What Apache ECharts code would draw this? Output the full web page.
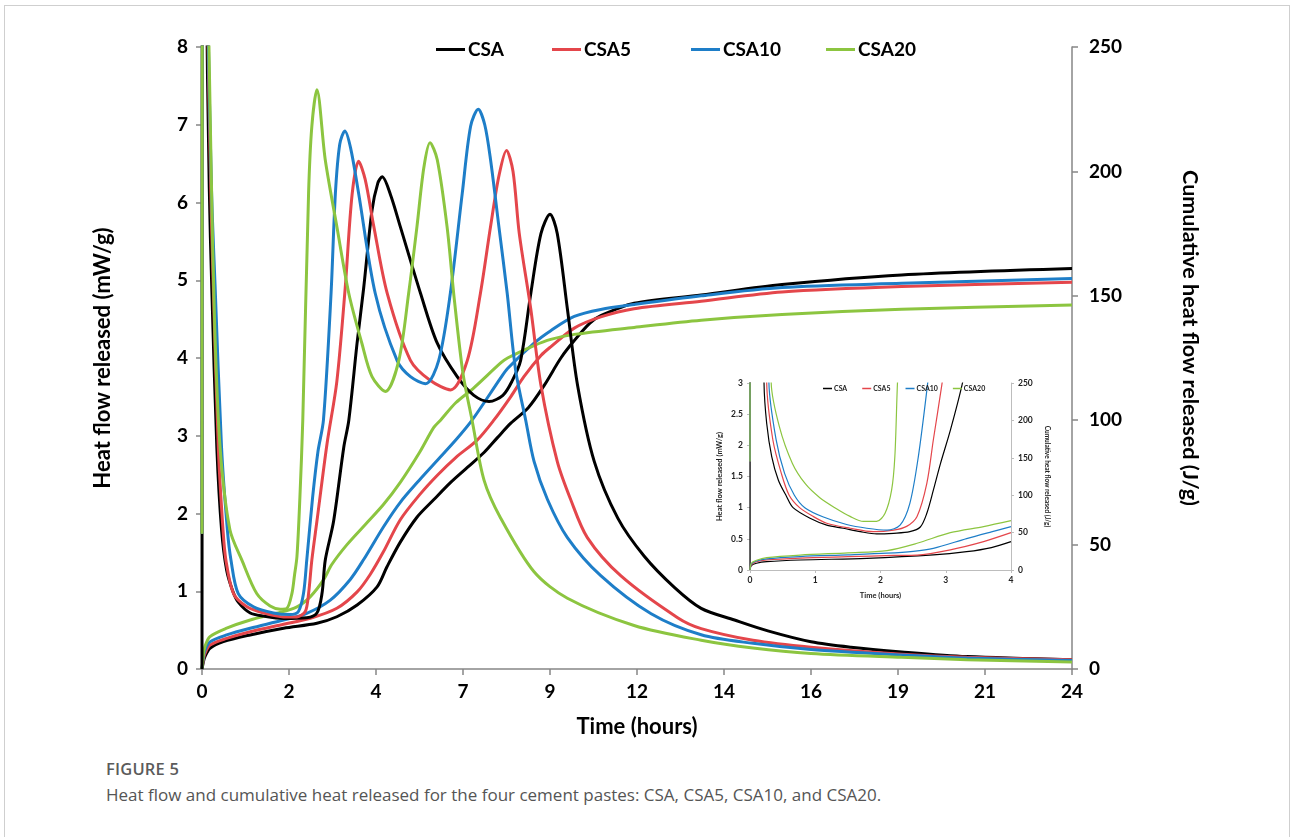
<!DOCTYPE html>
<html>
<head>
<meta charset="utf-8">
<title>Heat flow</title>
<script src="https://cdn.jsdelivr.net/npm/echarts@6.0.0/dist/echarts.min.js"></script>
<style>
  html, body { margin: 0; padding: 0; background: #fff; overflow: hidden; }
  #frame { position: absolute; left: 4px; top: 5px; width: 1284px; height: 900px; border: 1px solid #cfcfcf; border-bottom: none; }
  #chart { position: absolute; left: 0; top: 0; width: 1290px; height: 745px; }
  .fig { position: absolute; left: 106px; top: 757px; font: 600 16.5px "Open Sans"; color: #5b5b5b; letter-spacing: 0.2px; }
  .cap { position: absolute; left: 106px; top: 783px; font: 400 17px "Open Sans"; color: #555; }
</style>
</head>
<body>
<div id="frame"></div>
<div id="chart"></div>
<div class="fig">FIGURE 5</div>
<div class="cap">Heat flow and cumulative heat released for the four cement pastes: CSA, CSA5, CSA10, and CSA20.</div>
<script>
// sample names and colours
const names = ['CSA', 'CSA5', 'CSA10', 'CSA20'];
const colors = ['#000000', '#e4464b', '#1e7ec8', '#8cc540'];

// main chart: heat flow [hours, mW/g]
const csaHeat = [[0,0],[0.04,20],[0.12,9],[0.2,6.2],[0.27,4.9],[0.41,2.84],[0.54,1.79],[0.68,1.27],[0.85,1.0],[1.0,0.86],[1.33,0.72],[1.7,0.68],[2.25,0.65],[2.89,0.66],[3.17,0.72],[3.31,0.97],[3.4,1.4],[3.63,1.9],[3.91,2.85],[4.05,3.2],[4.28,4.2],[4.46,4.9],[4.69,5.9],[4.85,6.25],[4.97,6.33],[5.2,6.1],[5.47,5.69],[6.03,4.83],[6.49,4.19],[7.04,3.76],[7.5,3.52],[7.92,3.44],[8.3,3.52],[8.55,3.7],[8.79,3.97],[9.07,4.83],[9.35,5.6],[9.6,5.85],[9.8,5.6],[10.08,4.63],[10.36,3.65],[10.82,2.67],[11.47,1.94],[12.2,1.45],[13.03,1.05],[13.77,0.78],[14.69,0.63],[15.61,0.49],[16.8,0.35],[17.9,0.28],[19.3,0.22],[21.1,0.16],[24,0.12]];
const csa5Heat = [[0,1.74],[0.04,20],[0.14,9],[0.24,6.2],[0.31,4.94],[0.45,2.84],[0.58,1.79],[0.66,1.4],[0.87,0.97],[1.24,0.8],[1.7,0.72],[2.25,0.67],[2.62,0.67],[2.85,0.74],[2.94,0.97],[3.03,1.4],[3.17,1.9],[3.45,2.9],[3.72,3.7],[3.95,4.9],[4.14,6.1],[4.32,6.53],[4.5,6.3],[4.74,5.69],[5.11,4.83],[5.75,3.97],[6.3,3.71],[6.86,3.59],[7.32,3.97],[7.68,4.83],[7.96,5.69],[8.19,6.34],[8.4,6.67],[8.58,6.4],[8.75,5.61],[9.07,4.63],[9.35,3.65],[9.8,2.67],[10.17,2.18],[10.63,1.69],[11.55,1.2],[13.12,0.66],[13.77,0.52],[15.2,0.37],[16.8,0.28],[19.3,0.19],[21.1,0.15],[24,0.12]];
const csa10Heat = [[0,1.74],[0.04,20],[0.15,9],[0.26,6.2],[0.36,4.94],[0.54,2.84],[0.7,1.79],[0.8,1.4],[1.0,0.97],[1.42,0.8],[1.97,0.72],[2.43,0.7],[2.66,0.74],[2.8,0.97],[2.89,1.4],[3.05,2.2],[3.2,2.8],[3.35,3.2],[3.56,4.83],[3.68,6.12],[3.8,6.75],[3.94,6.92],[4.1,6.7],[4.32,6.12],[4.78,4.83],[5.38,3.97],[5.75,3.76],[6.17,3.67],[6.53,3.97],[6.85,4.83],[7.18,6.12],[7.41,6.98],[7.62,7.2],[7.8,7.0],[7.96,6.55],[8.19,5.69],[8.42,4.83],[8.65,3.85],[8.93,3.2],[9.16,2.67],[9.53,2.18],[10.08,1.69],[11.0,1.2],[12.39,0.71],[13.77,0.44],[15.2,0.33],[16.8,0.25],[19.3,0.18],[21.1,0.14],[24,0.11]];
const csa20Heat = [[0,1.74],[0.04,20],[0.15,9.5],[0.25,6.5],[0.35,4.41],[0.5,2.84],[0.77,1.79],[1.1,1.4],[1.51,0.97],[1.88,0.81],[2.16,0.77],[2.34,0.78],[2.48,0.97],[2.55,1.2],[2.62,1.45],[2.7,2.2],[2.78,3.2],[2.94,6.12],[3.03,6.98],[3.17,7.45],[3.4,6.55],[3.72,5.69],[4.05,4.83],[4.41,4.19],[4.69,3.76],[5.06,3.57],[5.43,3.97],[5.7,4.83],[5.93,5.69],[6.12,6.45],[6.29,6.77],[6.49,6.55],[6.76,5.69],[6.95,4.8],[7.2,3.8],[7.45,3.2],[7.78,2.43],[8.24,1.94],[9.16,1.25],[10.08,0.91],[11.92,0.56],[13.77,0.37],[15.2,0.27],[16.8,0.2],[19.3,0.15],[21.1,0.12],[24,0.09]];

// main chart: cumulative heat [hours, J/g]
const csaCum = [[0,0],[0.04,3],[0.08,4.9],[0.22,8.3],[0.59,11],[1.33,13.7],[2.25,16.4],[3.17,18.4],[3.72,21],[4.28,25.7],[4.83,33],[5.1,41],[5.47,51],[5.93,61],[6.39,68],[6.86,75],[7.32,81],[7.78,87],[8.15,93],[8.52,98.8],[9.0,105],[9.44,114],[9.9,125],[10.27,132],[10.7,139],[11.0,142],[11.92,147],[13.77,150.3],[16,154.5],[19.3,158.4],[24,161]];
const csa5Cum = [[0,0],[0.04,4],[0.08,6.2],[0.22,9.6],[0.68,12.3],[1.33,15],[2.25,18],[2.99,20.4],[3.72,24.4],[4.28,31],[4.64,38],[5.0,47],[5.47,60],[6.0,70],[6.5,78],[7.0,85],[7.59,92],[8.05,100],[8.52,109.5],[8.88,117.5],[9.35,126],[9.62,129.5],[10.27,137],[11.0,141.5],[11.92,144.8],[13.77,147.8],[16,151.5],[19.3,153.7],[24,155.4]];
const csa10Cum = [[0,0],[0.04,5],[0.08,7.5],[0.22,10.9],[0.68,13.7],[1.33,16.4],[2.25,19.7],[2.89,22.4],[3.54,27.7],[4.09,36],[4.46,44],[5.0,57],[5.47,67],[6.0,76],[6.5,84],[7.0,92],[7.45,100],[8.24,117],[8.43,120.8],[9.16,131],[9.62,136],[10.27,141.7],[11.0,144.5],[11.92,146.5],[13.77,150],[16,153.3],[19.3,155],[24,157]];
const csa20Cum = [[0,0],[0.04,6],[0.08,9],[0.22,13],[0.68,16.4],[1.33,19.7],[2.06,22.4],[2.62,25],[2.99,29.1],[3.35,35.8],[3.58,42],[4.0,50],[4.5,58],[5.0,66],[5.47,75],[6.0,87],[6.39,97],[6.58,100],[7.0,107],[7.5,113],[8.24,123],[8.43,125],[9.16,130],[9.62,132.5],[10.27,134.5],[11.92,137.3],[13.77,140.2],[16,142.5],[19.3,144.6],[24,146.3]];

// inset: first four hours
const insetCsaHeat = [[0,0],[0.01,20],[0.215,3.0],[0.256,2.35],[0.333,1.82],[0.435,1.44],[0.56,1.18],[0.66,1.0],[0.92,0.83],[1.176,0.72],[1.43,0.67],[1.69,0.615],[1.94,0.578],[2.2,0.589],[2.45,0.615],[2.61,0.69],[2.71,0.91],[2.81,1.28],[2.92,1.71],[3.07,2.24],[3.25,2.97],[3.3,3.3]];
const insetCsa5Heat = [[0,1.74],[0.01,20],[0.256,3.0],[0.35,2.09],[0.48,1.55],[0.6,1.2],[0.76,1.0],[0.95,0.87],[1.176,0.75],[1.534,0.67],[1.89,0.615],[2.2,0.64],[2.4,0.7],[2.56,0.86],[2.71,1.39],[2.81,2.09],[2.94,2.97],[2.98,3.3]];
const insetCsa10Heat = [[0,1.74],[0.01,20],[0.29,3.0],[0.4,2.09],[0.53,1.55],[0.68,1.2],[0.84,1.0],[1.125,0.85],[1.48,0.73],[1.79,0.67],[2.1,0.64],[2.3,0.72],[2.45,1.07],[2.58,1.82],[2.72,2.97],[2.75,3.3]];
const insetCsa20Heat = [[0,1.74],[0.01,20],[0.325,3.0],[0.45,2.3],[0.65,1.71],[0.85,1.38],[1.07,1.16],[1.3,1.0],[1.534,0.86],[1.74,0.78],[1.94,0.78],[2.07,0.91],[2.17,1.28],[2.22,1.82],[2.26,3.0],[2.28,3.3]];
const insetCsaCum = [[0,0],[0.02,6],[0.1,9],[0.256,11.1],[0.77,13.4],[1.79,15.6],[2.81,20.1],[3.32,24.5],[3.7,30],[4.0,37.9]];
const insetCsa5Cum = [[0,0],[0.02,7],[0.1,11],[0.256,13.5],[0.77,16],[1.5,17.8],[2.2,19.5],[2.56,20],[3.07,27],[3.58,38],[4.0,49.9]];
const insetCsa10Cum = [[0,0],[0.02,8],[0.1,12],[0.256,15],[0.77,18],[1.5,20.3],[2.1,22.5],[2.5,25],[2.81,29],[3.32,42],[3.7,51],[4.0,57.9]];
const insetCsa20Cum = [[0,0],[0.02,9],[0.1,13],[0.256,16.5],[0.77,20],[1.5,23],[2.1,26],[2.56,35.7],[3.07,49.9],[3.58,58],[4.0,65.9]];

const heat = [csaHeat, csa5Heat, csa10Heat, csa20Heat];
const cum = [csaCum, csa5Cum, csa10Cum, csa20Cum];
const insetHeat = [insetCsaHeat, insetCsa5Heat, insetCsa10Heat, insetCsa20Heat];
const insetCum = [insetCsaCum, insetCsa5Cum, insetCsa10Cum, insetCsa20Cum];

const font = 'Lato';
const axisGray = '#868686';
const insetGray = '#bdbdbd';

function line(name, color, data, xi, yi, width) {
  return {
    name: name, type: 'line', xAxisIndex: xi, yAxisIndex: yi, data: data,
    symbol: 'none', showSymbol: false, smooth: 0.3,
    lineStyle: { color: color, width: width }, itemStyle: { color: color },
    emphasis: { disabled: true }, silent: true
  };
}

const series = [];
names.forEach((n, i) => {
  series.push(line(n, colors[i], cum[i], 0, 1, 3));
});
names.forEach((n, i) => {
  series.push(line(n, colors[i], heat[i], 0, 0, 3));
});
names.forEach((n, i) => {
  series.push(line(n, colors[i], insetCum[i], 1, 3, 1.2));
  series.push(line(n, colors[i], insetHeat[i], 1, 2, 1.2));
});

function mainAxis(extra) {
  return Object.assign({
    type: 'value', splitLine: { show: false },
    axisLine: { show: true, onZero: false, lineStyle: { color: axisGray, width: 1.5 } },
    axisTick: { show: true, length: 6, lineStyle: { color: axisGray, width: 1.5 } },
    axisLabel: { color: '#000', fontFamily: font, fontWeight: 'bold', fontSize: 19 },
    nameLocation: 'middle',
    nameTextStyle: { color: '#000', fontFamily: font, fontWeight: 'bold', fontSize: 20 }
  }, extra);
}

function insetAxis(extra) {
  return Object.assign({
    type: 'value', splitLine: { show: false },
    axisLine: { show: true, onZero: false, lineStyle: { color: insetGray, width: 1 } },
    axisTick: { show: true, length: 3, lineStyle: { color: insetGray, width: 1 } },
    axisLabel: { color: '#222', fontFamily: font, fontWeight: 'bold', fontSize: 8.5 },
    nameLocation: 'middle',
    nameTextStyle: { color: '#222', fontFamily: font, fontWeight: 'bold', fontSize: 7.5 }
  }, extra);
}

function legendAt(name, left) {
  return {
    data: [name], left: left, top: 35, selectedMode: false,
    icon: 'rect', itemWidth: 29, itemHeight: 3,
    textStyle: { color: '#000', fontFamily: font, fontWeight: 'bold', fontSize: 19, padding: [0, 0, 0, -2] }
  };
}

const chart = echarts.init(document.getElementById('chart'));
chart.setOption({
  animation: false,
  grid: [
    { left: 202, top: 47, width: 870, height: 622 },
    { left: 750, top: 383, width: 261, height: 187 }
  ],
  legend: [
    legendAt('CSA', 431),
    legendAt('CSA5', 547),
    legendAt('CSA10', 686),
    legendAt('CSA20', 821),
    {
      data: names, left: 818, top: 380, selectedMode: false,
      icon: 'rect', itemWidth: 9, itemHeight: 1.5, itemGap: 15,
      textStyle: { color: '#222', fontFamily: font, fontWeight: 'bold', fontSize: 7, padding: [0, 0, 0, -3] }
    }
  ],
  xAxis: [
    mainAxis({
      gridIndex: 0, min: 0, max: 24, interval: 2.4,
      axisLabel: { color: '#000', fontFamily: font, fontWeight: 'bold', fontSize: 19, margin: 13,
        formatter: v => String(Math.floor(v + 1e-6)) },
      name: 'Time (hours)', nameGap: 47,
      nameTextStyle: { color: '#000', fontFamily: font, fontWeight: 'bold', fontSize: 22 }
    }),
    insetAxis({
      gridIndex: 1, min: 0, max: 4, interval: 1,
      name: 'Time (hours)', nameGap: 22,
      axisLabel: { color: '#222', fontFamily: font, fontWeight: 'bold', fontSize: 8.5, margin: 6 }
    })
  ],
  yAxis: [
    mainAxis({
      gridIndex: 0, min: 0, max: 8, interval: 1, position: 'left',
      axisLabel: { color: '#000', fontFamily: font, fontWeight: 'bold', fontSize: 19, margin: 14 },
      name: 'Heat flow released (mW/g)', nameGap: 88,
      nameTextStyle: { color: '#000', fontFamily: font, fontWeight: 'bold', fontSize: 22 }
    }),
    mainAxis({
      gridIndex: 0, min: 0, max: 250, interval: 50, position: 'right',
      axisLabel: { color: '#000', fontFamily: font, fontWeight: 'bold', fontSize: 19, margin: 17 },
      name: 'Cumulative heat flow released (J/g)', nameGap: 107, nameRotate: -90,
      nameTextStyle: { color: '#000', fontFamily: font, fontWeight: 'bold', fontSize: 21.5, padding: [0, 40, 0, 0] }
    }),
    insetAxis({
      gridIndex: 1, min: 0, max: 3, interval: 0.5, position: 'left',
      axisLabel: { color: '#222', fontFamily: font, fontWeight: 'bold', fontSize: 8.5, margin: 7 },
      name: 'Heat flow released (mW/g)', nameGap: 26
    }),
    insetAxis({
      gridIndex: 1, min: 0, max: 250, interval: 50, position: 'right',
      axisLabel: { color: '#222', fontFamily: font, fontWeight: 'bold', fontSize: 8.5, margin: 7 },
      name: 'Cumulative heat flow released (J/g)', nameGap: 33, nameRotate: -90,
      nameTextStyle: { color: '#222', fontFamily: font, fontWeight: 'bold', fontSize: 6.5 }
    })
  ],
  series: series
});
</script>
</body>
</html>
